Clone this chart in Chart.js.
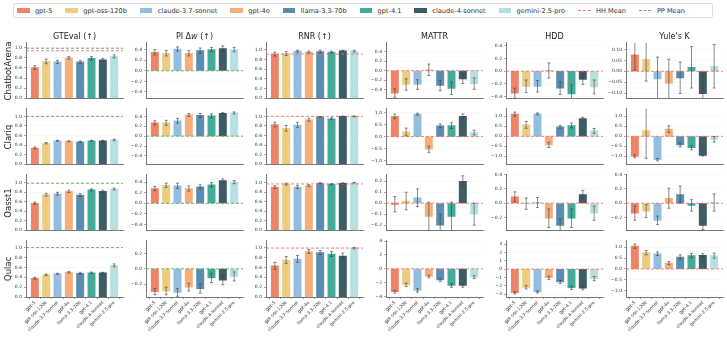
<!DOCTYPE html>
<html><head><meta charset="utf-8">
<script src="https://cdn.jsdelivr.net/npm/chart.js@4"></script>
<style>
body{margin:0;background:#fff;width:727px;height:339px;overflow:hidden;position:relative;font-family:"DejaVu Sans",sans-serif;}
canvas{position:absolute;}
.title{position:absolute;font-size:8px;color:#222;white-space:nowrap;transform:translate(-50%,-50%);}
.rowlab{position:absolute;font-size:8.5px;color:#222;white-space:nowrap;transform:translate(-50%,-50%) rotate(-90deg);}
#legend{position:absolute;left:13px;top:3px;width:700px;height:15px;border:1px solid #ddd;border-radius:2px;box-sizing:border-box;display:flex;align-items:center;padding-left:3px;font-size:6.6px;color:#333;}
.li{display:flex;align-items:center;margin-right:13px;white-space:nowrap;}
.sw{width:12.5px;height:4.5px;margin-right:5.4px;}
.ln{width:12.5px;height:0;border-top:1px dashed;margin-right:5.4px;}
</style></head>
<body>
<div id="legend"></div>
<script>
// ---------- data ----------
const models = ['gpt-5','gpt-oss-120b','claude-3.7-sonnet','gpt-4o','llama-3.3-70b','gpt-4.1','claude-4-sonnet','gemini-2.5-pro'];
const datasetNames = ['ChatbotArena','Clariq','Oasst1','Qulac'];
const metricTitles = ['GTEval (↑)','PI Δw (↑)','RNR (↑)','MATTR','HDD',"Yule's K"];
const meanLabels = ['HH Mean','PP Mean'];

const gteval = [
 [0.61,0.73,0.72,0.80,0.72,0.79,0.76,0.83],
 [0.34,0.44,0.49,0.48,0.47,0.49,0.49,0.51],
 [0.57,0.75,0.77,0.82,0.74,0.85,0.82,0.87],
 [0.38,0.45,0.47,0.50,0.48,0.49,0.49,0.64]];
const gtevalErr = [
 [0.035,0.045,0.03,0.025,0.03,0.035,0.025,0.03],
 [0.02,0.015,0.01,0.01,0.015,0.01,0.01,0.015],
 [0.02,0.03,0.03,0.025,0.03,0.02,0.025,0.02],
 [0.02,0.015,0.01,0.015,0.02,0.015,0.01,0.03]];

const piDw = [
 [0.35,0.33,0.41,0.33,0.38,0.40,0.42,0.40],
 [0.27,0.27,0.31,0.43,0.42,0.41,0.46,0.47],
 [0.28,0.34,0.33,0.28,0.31,0.35,0.43,0.40],
 [-0.30,-0.29,-0.31,-0.24,-0.26,-0.12,-0.15,-0.10]];
const piDwErr = [
 [0.05,0.05,0.04,0.05,0.05,0.04,0.05,0.04],
 [0.04,0.05,0.05,0.03,0.04,0.04,0.02,0.02],
 [0.04,0.04,0.05,0.05,0.04,0.04,0.03,0.03],
 [0.04,0.05,0.05,0.05,0.06,0.06,0.06,0.06]];

const rnr = [
 [0.91,0.92,0.97,0.95,0.96,0.95,0.98,0.97],
 [0.83,0.75,0.82,0.93,0.99,0.95,1.00,1.00],
 [0.91,0.97,0.91,0.94,0.99,0.97,0.99,1.00],
 [0.63,0.75,0.77,0.92,0.90,0.87,0.83,0.99]];
const rnrErr = [
 [0.04,0.04,0.02,0.02,0.03,0.02,0.01,0.02],
 [0.05,0.06,0.05,0.03,0.01,0.02,0.005,0.01],
 [0.03,0.02,0.03,0.02,0.01,0.01,0.01,0.005],
 [0.07,0.07,0.07,0.04,0.04,0.05,0.06,0.015]];

const mattr = [
 [-0.47,-0.29,-0.29,0.02,-0.31,-0.37,-0.17,-0.27],
 [0.85,0.20,0.94,-0.53,0.45,0.46,0.85,0.17],
 [-0.01,0.02,0.05,-0.12,-0.20,-0.12,0.20,-0.10],
 [-3.3,-2.3,-3.1,-1.1,-1.6,-2.4,-2.4,-1.2]];
const mattrErr = [
 [0.09,0.12,0.10,0.12,0.11,0.13,0.10,0.12],
 [0.10,0.16,0.04,0.13,0.08,0.12,0.10,0.10],
 [0.07,0.08,0.08,0.13,0.10,0.13,0.05,0.10],
 [0.2,0.25,0.25,0.2,0.2,0.25,0.25,0.2]];

const hdd = [
 [-0.35,-0.24,-0.24,0.01,-0.27,-0.36,-0.13,-0.25],
 [1.11,0.57,1.12,-0.43,0.47,0.54,0.88,0.27],
 [0.09,-0.005,0.01,-0.21,-0.31,-0.21,0.12,-0.14],
 [-2.85,-2.2,-2.75,-1.05,-1.55,-2.25,-2.3,-1.15]];
const hddErr = [
 [0.08,0.10,0.09,0.12,0.10,0.14,0.08,0.11],
 [0.10,0.17,0.05,0.13,0.07,0.12,0.07,0.12],
 [0.07,0.08,0.07,0.13,0.09,0.13,0.06,0.10],
 [0.12,0.2,0.12,0.2,0.2,0.2,0.2,0.25]];

const yule = [
 [0.075,0.055,-0.035,-0.055,-0.03,0.018,-0.103,0.023],
 [-1.0,0.28,-1.17,0.36,-0.43,-0.57,-0.95,-0.15],
 [-0.14,-0.11,-0.24,0.07,0.12,-0.03,-0.31,0.01],
 [1.05,0.75,0.70,0.27,0.55,0.62,0.63,0.61]];
const yuleErr = [
 [0.07,0.10,0.10,0.11,0.072,0.095,0.085,0.10],
 [0.07,1.38,0.06,0.17,0.10,0.10,0.04,0.14],
 [0.10,0.09,0.06,0.14,0.12,0.08,0.06,0.12],
 [0.10,0.10,0.08,0.07,0.10,0.10,0.07,0.12]];

// mean reference lines, [metric][dataset]
const hhMean = [
 [0.94,null,null,null],
 [null,null,null,null],
 [0.91,1.0,0.975,0.99],
 [0,0,0,0],
 [0,0,0,0],
 [0,0,0,0]];
const ppMean = [
 [0.99,1.0,0.99,1.0],
 [0,0,0,0],
 [null,null,null,null],
 [null,null,null,null],
 [null,null,null,null],
 [null,null,null,null]];

// axis limits and tick steps, [metric][dataset]
const yLims = [
 [[0,1.1],[0,1.16],[0,1.17],[0,1.14]],
 [[-0.52,0.53],[-0.57,0.555],[-0.51,0.54],[-0.37,0.37]],
 [[0,1.145],[0,1.16],[0,1.17],[0,1.14]],
 [[-0.58,0.59],[-1.16,1.17],[-0.247,0.26],[-4.05,4.05]],
 [[-0.43,0.45],[-1.4,1.38],[-0.38,0.4],[-3.36,3.4]],
 [[-0.124,0.131],[-1.4,1.38],[-0.38,0.4],[-1.29,1.3]]];
const ySteps = [
 [0.2,0.2,0.2,0.2],[0.2,0.2,0.2,0.2],[0.2,0.2,0.2,0.2],
 [0.2,0.5,0.1,2],[0.2,0.5,0.2,1],[0.05,0.5,0.2,0.5]];
const yDecimals = [
 [1,1,1,1],[1,1,1,1],[1,1,1,1],[1,1,1,0],[1,1,1,0],[2,1,1,1]];

const metricVals = [gteval,piDw,rnr,mattr,hdd,yule];
const metricErrs = [gtevalErr,piDwErr,rnrErr,mattrErr,hddErr,yuleErr];

// ---------- style / layout ----------
const colors = ['#EE8468','#EDCC7E','#92BFDF','#F5AF7B','#5B8DB0','#44AA99','#3E5C68','#B5E0E1'];
const hhColor = 'rgba(238,110,105,0.85)';
const ppColor = 'rgba(85,170,85,0.9)';
const FONT = '"DejaVu Sans", sans-serif';
const plotLeft0 = 26, colStep = 120, plotW = 97, plotH = 57, yAxisW = 24;
const plotTops = [42,108,174,240];
const PAD = 4;

// legend
const leg = document.getElementById('legend');
models.forEach((m,i)=>{
  const d=document.createElement('div');d.className='li';
  d.innerHTML='<span class="sw" style="background:'+colors[i]+'"></span><span>'+m+'</span>';
  leg.appendChild(d);
});
[hhColor,ppColor].forEach((c,i)=>{
  const d=document.createElement('div');d.className='li';
  d.innerHTML='<span class="ln" style="border-color:'+c+'"></span><span>'+meanLabels[i]+'</span>';
  leg.appendChild(d);
});

function fmt(v,d){
  if (Math.abs(v)<1e-9) return (0).toFixed(d);
  return (v<0?'\u2212':'')+Math.abs(v).toFixed(d);
}
function tickList(min,max,step){
  const out=[];
  for(let k=Math.ceil(min/step-1e-9);k<=Math.floor(max/step+1e-9);k++) out.push(Math.round(k*step*1e6)/1e6);
  return out;
}

function makeOverlay(errs, hh, pp){
  return {
    id:'overlay',
    afterDatasetsDraw(chart){
      const {ctx, chartArea:a, scales:{x,y}} = chart;
      ctx.save();
      ctx.beginPath(); ctx.rect(a.left,a.top,a.right-a.left,a.bottom-a.top); ctx.clip();
      [[hh,hhColor],[pp,ppColor]].forEach(([v,c])=>{
        if(v===null||v===undefined) return;
        const py=y.getPixelForValue(v);
        ctx.strokeStyle=c; ctx.lineWidth=1; ctx.setLineDash([3,2]);
        ctx.beginPath(); ctx.moveTo(a.left,py); ctx.lineTo(a.right,py); ctx.stroke();
      });
      ctx.setLineDash([]);
      const meta = chart.getDatasetMeta(0);
      const vals = chart.data.datasets[0].data;
      meta.data.forEach((el,i)=>{
        const v = vals[i].y, e = errs[i];
        const px = el.x;
        const y1 = y.getPixelForValue(v-e), y2 = y.getPixelForValue(v+e);
        ctx.strokeStyle='rgba(60,60,60,0.75)'; ctx.lineWidth=0.8;
        ctx.beginPath();
        ctx.moveTo(px,y1); ctx.lineTo(px,y2);
        ctx.moveTo(px-1.5,y1); ctx.lineTo(px+1.5,y1);
        ctx.moveTo(px-1.5,y2); ctx.lineTo(px+1.5,y2);
        ctx.stroke();
      });
      ctx.restore();
    }
  };
}

for(let r=0;r<4;r++){
  for(let c=0;c<6;c++){
    const last = (r===3);
    const plotLeft = plotLeft0 + colStep*c;
    const top = plotTops[r]-PAD;
    const cw = yAxisW + plotW + 3;
    const ch = last ? (339-top) : (plotH + 2*PAD);
    const cv = document.createElement('canvas');
    cv.width=cw; cv.height=ch;
    cv.style.left=(plotLeft-yAxisW)+'px'; cv.style.top=top+'px';
    cv.style.width=cw+'px'; cv.style.height=ch+'px';
    document.body.appendChild(cv);
    const vals = metricVals[c][r], errs = metricErrs[c][r];
    const [ymin,ymax] = yLims[c][r];
    const ticks = tickList(ymin,ymax,ySteps[c][r]);
    const dec = yDecimals[c][r];
    new Chart(cv,{
      type:'bar',
      data:{datasets:[{
        data: vals.map((v,i)=>({x:i,y:v})),
        backgroundColor: colors,
        borderWidth:0,
        barThickness:7.3
      }]},
      options:{
        responsive:false, animation:false, events:[],
        devicePixelRatio:1,
        layout:{padding:{top:PAD,bottom:last?0:PAD,left:0,right:3}},
        plugins:{legend:{display:false},tooltip:{enabled:false}},
        scales:{
          x:{
            type:'linear', min:-0.78, max:7.78, offset:false,
            afterBuildTicks:s=>{s.ticks=models.map((m,i)=>({value:i}));},
            afterFit:s=>{s.height = last ? (ch-PAD-plotH) : 0;},
            ticks:{display:last, autoSkip:false, maxRotation:45, minRotation:45,
              font:{size:4.5,family:FONT}, color:'#333', padding:1,
              callback:(v)=>models[v]},
            grid:{display:last, drawOnChartArea:false, drawTicks:true, tickLength:2, tickColor:'#555', lineWidth:0.6},
            border:{display:true,color:'#555',width:0.8}
          },
          y:{
            min:ymin, max:ymax,
            afterBuildTicks:s=>{s.ticks=ticks.map(v=>({value:v}));},
            afterFit:s=>{s.width=yAxisW;},
            ticks:{font:{size:4.5,family:FONT}, color:'#333', padding:2, callback:(v)=>fmt(v,dec)},
            grid:{color:'rgba(0,0,0,0.06)', lineWidth:0.5, drawTicks:true, tickLength:2, tickColor:'#555'},
            border:{display:true,color:'#555',width:0.8}
          }
        }
      },
      plugins:[makeOverlay(errs, hhMean[c][r], ppMean[c][r])]
    });
    if(r===0){
      const t=document.createElement('div'); t.className='title';
      t.style.left=(plotLeft+plotW/2)+'px'; t.style.top='36px';
      if(c===1){ t.innerHTML='PI Δ<i>w</i> (↑)'; } else { t.textContent=metricTitles[c]; }
      document.body.appendChild(t);
    }
  }
  const rl=document.createElement('div'); rl.className='rowlab';
  rl.textContent=datasetNames[r];
  rl.style.left='8px'; rl.style.top=(plotTops[r]+plotH/2)+'px';
  document.body.appendChild(rl);
}
</script>
</body></html>
